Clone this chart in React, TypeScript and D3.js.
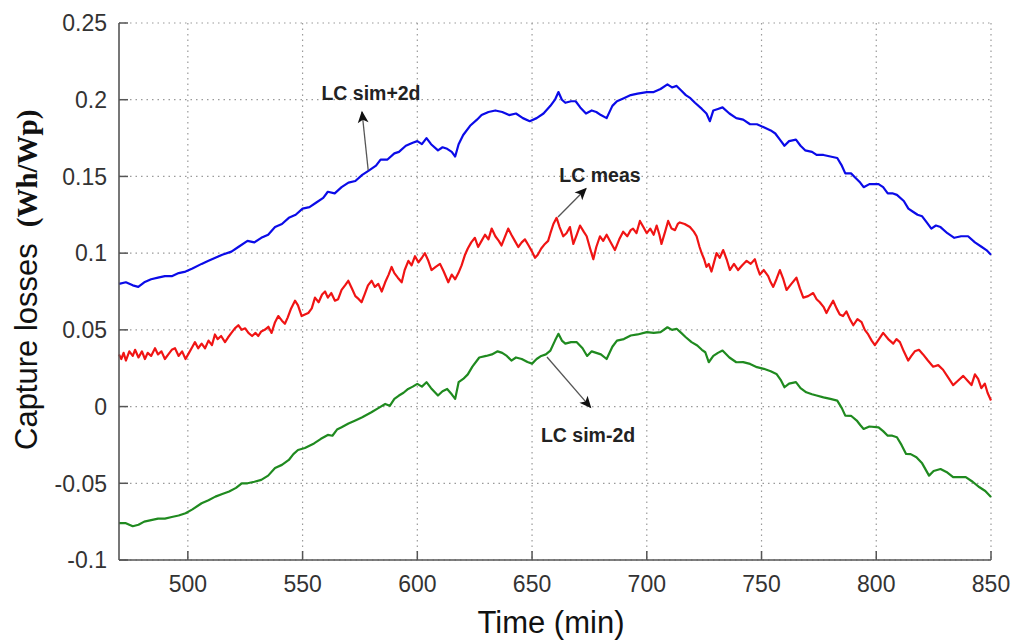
import React from "react";
import * as d3 from "d3";

const xTicks = [500, 550, 600, 650, 700, 750, 800, 850];
const yTicks = [-0.1, -0.05, 0, 0.05, 0.1, 0.15, 0.2, 0.25];
const yTickLabels = ["-0.1", "-0.05", "0", "0.05", "0.1", "0.15", "0.2", "0.25"];

const simPlus: [number, number][] = [
  [470, 0.080], [473, 0.081], [476, 0.079], [478.4, 0.078], [481, 0.081], [484, 0.083], [487, 0.084], [490, 0.085],
  [493, 0.085], [496, 0.087], [499, 0.088], [502, 0.090], [506, 0.093], [509, 0.095], [512, 0.097], [515, 0.099],
  [519, 0.101], [522, 0.104], [526, 0.108], [529, 0.107], [532, 0.110], [535, 0.112], [538, 0.117], [541, 0.119],
  [544, 0.123], [547, 0.125], [550, 0.129], [553, 0.130], [556, 0.133], [559, 0.136], [561, 0.140], [564, 0.139],
  [567, 0.143], [570, 0.146], [573, 0.147], [576, 0.151], [579, 0.154], [582, 0.157], [584, 0.161], [587, 0.161],
  [590, 0.165], [592, 0.166], [595, 0.170], [598, 0.172], [600, 0.173], [602, 0.171], [604, 0.175], [606, 0.171],
  [609, 0.167], [611, 0.169], [613, 0.168], [615, 0.166], [616.5, 0.163], [618, 0.171], [620, 0.177], [623, 0.183],
  [626, 0.187], [628, 0.190], [631, 0.192], [634, 0.193], [637, 0.192], [640, 0.190], [643, 0.191], [646, 0.188],
  [649, 0.186], [652, 0.188], [655, 0.191], [658, 0.196], [660, 0.200], [661.5, 0.205], [663, 0.200], [664.5, 0.198],
  [667, 0.199], [669, 0.199], [671, 0.195], [673.5, 0.191], [676, 0.193], [678, 0.192], [680, 0.190], [682.5, 0.188],
  [685, 0.196], [687, 0.199], [690, 0.201], [693, 0.203], [696, 0.204], [700, 0.205], [703, 0.205], [706, 0.207],
  [709, 0.210], [711, 0.208], [713, 0.209], [715, 0.206], [717, 0.203], [719, 0.201], [721, 0.198], [724, 0.194],
  [726, 0.191], [727.5, 0.186], [729, 0.193], [731, 0.194], [733, 0.195], [736, 0.191], [739, 0.188], [742, 0.187],
  [745, 0.184], [748, 0.184], [751, 0.182], [754, 0.180], [756, 0.178], [758, 0.174], [760, 0.170], [762, 0.173],
  [765, 0.174], [767, 0.170], [769, 0.167], [772, 0.166], [774, 0.164], [777, 0.164], [780, 0.163], [783, 0.162],
  [785, 0.157], [786.5, 0.152], [789, 0.152], [791, 0.149], [793, 0.146], [794.5, 0.143], [797, 0.145], [801, 0.145],
  [803, 0.143], [805, 0.139], [807, 0.139], [809, 0.138], [812, 0.134], [814, 0.129], [816, 0.127], [818, 0.125],
  [820, 0.124], [822, 0.120], [824, 0.116], [826, 0.118], [828, 0.117], [831, 0.113], [834, 0.110], [837, 0.111],
  [840, 0.111], [843, 0.107], [846, 0.104], [848, 0.102], [850, 0.099],
];

const meas: [number, number][] = [
  [470, 0.034], [471, 0.031], [472, 0.035], [473, 0.030], [474.5, 0.036], [476, 0.033], [477, 0.037], [478.5, 0.032],
  [480, 0.036], [481.3, 0.031], [482.5, 0.035], [484, 0.033], [485.7, 0.038], [487, 0.034], [488.5, 0.036], [490, 0.031],
  [491.5, 0.034], [493, 0.037], [494.4, 0.038], [496, 0.033], [497.5, 0.036], [499, 0.031], [500.5, 0.035], [502, 0.039],
  [503.1, 0.042], [504.5, 0.038], [506, 0.041], [507.5, 0.038], [509, 0.043], [510.5, 0.040], [511.8, 0.047], [513, 0.044],
  [514.5, 0.046], [516.2, 0.042], [517.5, 0.045], [519, 0.048], [520.5, 0.051], [522, 0.053], [523.5, 0.050], [525, 0.051],
  [526.4, 0.048], [528, 0.046], [529.5, 0.048], [530.7, 0.046], [532, 0.049], [533.5, 0.050], [535.1, 0.052], [536.5, 0.048],
  [538, 0.055], [539.4, 0.059], [541, 0.056], [542.3, 0.054], [543.5, 0.058], [545, 0.064], [546.7, 0.069], [548, 0.066],
  [549.6, 0.059], [551, 0.060], [552.5, 0.061], [554, 0.064], [555.4, 0.071], [557, 0.068], [558.5, 0.073], [559.8, 0.075],
  [561, 0.071], [562.5, 0.074], [564.1, 0.069], [565.5, 0.070], [567, 0.076], [568.5, 0.079], [569.9, 0.082], [571.5, 0.077],
  [573, 0.072], [574.5, 0.070], [575.7, 0.068], [577, 0.073], [578.5, 0.079], [580.1, 0.082], [581.5, 0.078], [583, 0.080],
  [584.5, 0.075], [586, 0.081], [587.5, 0.086], [588.8, 0.091], [590, 0.087], [591.5, 0.084], [593.2, 0.081], [594.5, 0.089],
  [596.1, 0.095], [597.5, 0.092], [599, 0.098], [600.5, 0.094], [602, 0.097], [603.3, 0.100], [604.8, 0.095], [606.2, 0.089],
  [608, 0.091], [609.9, 0.093], [611.5, 0.088], [613.5, 0.081], [615, 0.086], [616.5, 0.083], [617.9, 0.087], [619.3, 0.092],
  [620.8, 0.099], [622, 0.103], [623.5, 0.107], [625.1, 0.110], [626.5, 0.104], [628, 0.108], [629.5, 0.112], [631, 0.109],
  [632.4, 0.116], [634, 0.111], [635.5, 0.108], [636.7, 0.105], [638, 0.110], [639.6, 0.116], [641, 0.112], [642.5, 0.108],
  [644, 0.104], [645.5, 0.107], [646.9, 0.109], [648.5, 0.105], [650, 0.101], [651.3, 0.097], [652.5, 0.099], [654, 0.103],
  [655.6, 0.106], [657, 0.108], [658, 0.113], [659.3, 0.119], [660.7, 0.123], [662, 0.117], [663.6, 0.111], [665, 0.113],
  [666.5, 0.117], [668, 0.106], [669.5, 0.112], [670.9, 0.118], [672.5, 0.114], [673.8, 0.111], [675.3, 0.103], [676.7, 0.096],
  [678, 0.104], [679.6, 0.111], [681, 0.108], [682.5, 0.112], [684.3, 0.107], [686.1, 0.102], [688, 0.109], [689.7, 0.114],
  [691.5, 0.111], [693, 0.115], [694, 0.116], [695.5, 0.113], [697, 0.121], [698.5, 0.117], [700, 0.113], [701.5, 0.116],
  [703, 0.112], [704.3, 0.118], [705.5, 0.112], [706.4, 0.106], [708, 0.114], [709.3, 0.121], [710.8, 0.116], [712.3, 0.115],
  [713.5, 0.119], [714.4, 0.120], [716.5, 0.119], [718.8, 0.117], [720.5, 0.114], [721.7, 0.111], [723, 0.104], [723.9, 0.100],
  [725, 0.096], [726, 0.091], [727, 0.093], [728.2, 0.088], [729.3, 0.094], [730.4, 0.100], [731.8, 0.097], [733.3, 0.102],
  [734.8, 0.096], [736.2, 0.089], [738, 0.093], [739.8, 0.089], [741.5, 0.092], [743.5, 0.095], [745.3, 0.093], [747.1, 0.096],
  [748.3, 0.090], [749.3, 0.086], [751, 0.089], [752.9, 0.085], [754, 0.081], [755.1, 0.078], [756.5, 0.083], [758, 0.089],
  [759.5, 0.083], [760.9, 0.076], [763, 0.080], [765.2, 0.084], [766.7, 0.077], [768.2, 0.071], [770.3, 0.072], [772.5, 0.074],
  [774, 0.070], [775.4, 0.068], [777, 0.065], [778.3, 0.061], [779.7, 0.065], [781.2, 0.069], [782.7, 0.064], [784.1, 0.060],
  [785.5, 0.059], [787, 0.062], [788.5, 0.057], [790, 0.053], [791.8, 0.057], [793.6, 0.055], [795, 0.050], [796.5, 0.047],
  [798, 0.043], [799.4, 0.040], [801.2, 0.044], [803, 0.048], [805.2, 0.044], [807.4, 0.041], [808.8, 0.044], [810.3, 0.042],
  [812, 0.036], [813.9, 0.030], [815.3, 0.033], [816.8, 0.036], [818.6, 0.037], [820.4, 0.034], [822.5, 0.030], [824.8, 0.026],
  [827, 0.027], [829.1, 0.024], [831.3, 0.019], [833.5, 0.014], [835.7, 0.017], [837.9, 0.020], [839.7, 0.017], [841.5, 0.014],
  [843, 0.021], [844.4, 0.018], [845.8, 0.012], [847.3, 0.015], [848.5, 0.009], [850, 0.004],
];

const simMinus: [number, number][] = [
  [470, -0.076], [473, -0.076], [476, -0.078], [478.5, -0.077], [481, -0.075], [484, -0.074], [487, -0.073], [490, -0.073],
  [493, -0.072], [496, -0.071], [499, -0.0695], [502, -0.067], [506, -0.063], [509, -0.061], [512, -0.0587], [515, -0.057],
  [518, -0.0554], [521, -0.053], [523.5, -0.050], [526, -0.050], [529, -0.049], [532, -0.0478], [535, -0.045], [538, -0.040],
  [541, -0.038], [544, -0.0348], [546, -0.031], [548, -0.0283], [551, -0.027], [555, -0.024], [558, -0.021], [561, -0.0185],
  [563, -0.019], [565, -0.015], [567, -0.0135], [570, -0.011], [573, -0.009], [576, -0.007], [580, -0.0037], [583, -0.001],
  [586, 0.0017], [588, 0.0005], [590, 0.005], [592, 0.0072], [594, 0.009], [596, 0.0115], [598, 0.013], [600, 0.0148],
  [602, 0.013], [604, 0.0159], [606, 0.012], [609, 0.0072], [611, 0.010], [613, 0.0115], [615, 0.008], [616.5, 0.005],
  [618, 0.0159], [620, 0.018], [622, 0.021], [624, 0.026], [627, 0.032], [630, 0.033], [632.5, 0.034], [635, 0.036],
  [637, 0.035], [639, 0.033], [641, 0.030], [643, 0.032], [645.5, 0.031], [648, 0.029], [650, 0.028], [652, 0.031],
  [654, 0.033], [656, 0.034], [658, 0.0365], [660, 0.043], [661.5, 0.0474], [663, 0.043], [664.5, 0.041], [667, 0.042],
  [669.5, 0.042], [672, 0.038], [674, 0.033], [676, 0.036], [678, 0.035], [680, 0.034], [682.5, 0.031], [685, 0.039],
  [687, 0.043], [690, 0.044], [693, 0.0463], [696, 0.047], [700, 0.0485], [703, 0.048], [706, 0.0485], [709, 0.0517],
  [711, 0.050], [713, 0.0507], [715, 0.048], [717, 0.0452], [719.5, 0.042], [722, 0.0398], [724, 0.037], [725.5, 0.0354],
  [727, 0.0289], [729, 0.033], [731, 0.035], [733, 0.0365], [736, 0.032], [739, 0.0289], [742, 0.029], [745, 0.0278],
  [748, 0.0257], [751, 0.0246], [754, 0.023], [756.5, 0.0213], [758.5, 0.017], [760, 0.0126], [762, 0.015], [765, 0.0159],
  [767, 0.012], [769.5, 0.0093], [772, 0.008], [774, 0.0072], [777, 0.006], [780, 0.005], [783, 0.0039], [785, -0.001],
  [786.5, -0.0059], [789, -0.006], [791.5, -0.0091], [793, -0.012], [794.5, -0.0146], [797, -0.013], [801, -0.0135], [803, -0.016],
  [805, -0.019], [807, -0.019], [809, -0.020], [811, -0.025], [813, -0.0309], [815, -0.031], [817.5, -0.033], [820, -0.037],
  [823, -0.045], [825, -0.042], [828, -0.0407], [831, -0.043], [833.5, -0.046], [836, -0.046], [839, -0.046], [842, -0.049],
  [845, -0.0526], [847.5, -0.055], [850, -0.059],
];

const seriesList = [
  { name: "LC sim+2d", data: simPlus, color: "#0b0be8" },
  { name: "LC meas", data: meas, color: "#f01414" },
  { name: "LC sim-2d", data: simMinus, color: "#1f8a1f" },
];

// annotations in data units: text position, arrow start, arrow tip
const annotations = [
  { label: "LC sim+2d", text: [579.8, 0.2044], from: [578.6, 0.154], to: [575.9, 0.192] },
  { label: "LC meas", text: [679.6, 0.151], from: [661.3, 0.1236], to: [673.5, 0.142] },
  { label: "LC sim-2d", text: [674.4, -0.0185], from: [656.5, 0.0323], to: [675.5, -0.0005] },
];

const W = 1011;
const H = 644;
const L = 119, R = 991, T = 23, B = 560;

export default function App() {
  const x = d3.scaleLinear().domain([470, 850]).range([L, R]);
  const y = d3.scaleLinear().domain([-0.1, 0.25]).range([B, T]);
  const line = d3
    .line<[number, number]>()
    .x((d) => x(d[0]))
    .y((d) => y(d[1]));

  const tickFont = "Arial, 'Liberation Sans', sans-serif";

  return (
    <svg
      width={W}
      height={H}
      style={{ position: "absolute", left: 0, top: 0, background: "#fff" }}
    >
      <defs>
        <marker
          id="arrowHead"
          viewBox="0 0 10 10"
          refX="9"
          refY="5"
          markerWidth="14"
          markerHeight="12"
          orient="auto"
          markerUnits="userSpaceOnUse"
        >
          <path d="M0,0.5 L10,5 L0,9.5 L2.5,5 Z" fill="#111" />
        </marker>
      </defs>
      {/* grid */}
      {xTicks.map((t) => (
        <line
          key={"gx" + t}
          x1={x(t)}
          x2={x(t)}
          y1={T}
          y2={B}
          stroke="#9a9a9a"
          strokeWidth={1.2}
          strokeDasharray="1.5,4"
        />
      ))}
      {yTicks.map((t) => (
        <line
          key={"gy" + t}
          x1={L}
          x2={R}
          y1={y(t)}
          y2={y(t)}
          stroke="#9a9a9a"
          strokeWidth={1.2}
          strokeDasharray="1.5,4"
        />
      ))}
      {/* series */}
      {seriesList.map((s) => (
        <path
          key={s.name}
          d={line(s.data) || ""}
          fill="none"
          stroke={s.color}
          strokeWidth={2.2}
          strokeLinejoin="round"
        />
      ))}
      {/* axes */}
      <line x1={L} x2={L} y1={T} y2={B} stroke="#555" strokeWidth={1.6} />
      <line x1={L} x2={R} y1={B} y2={B} stroke="#555" strokeWidth={1.6} />
      {yTicks.map((t, i) => (
        <g key={"yt" + t}>
          <line x1={L} x2={L + 9} y1={y(t)} y2={y(t)} stroke="#555" strokeWidth={1.5} />
          <text
            x={L - 12}
            y={y(t)}
            dy="0.36em"
            textAnchor="end"
            fontFamily={tickFont}
            fontSize={23}
            fill="#333"
          >
            {yTickLabels[i]}
          </text>
        </g>
      ))}
      {xTicks.map((t) => (
        <g key={"xt" + t}>
          <line x1={x(t)} x2={x(t)} y1={B} y2={B - 9} stroke="#555" strokeWidth={1.5} />
          <text
            x={x(t)}
            y={592}
            textAnchor="middle"
            fontFamily={tickFont}
            fontSize={23}
            fill="#333"
          >
            {t}
          </text>
        </g>
      ))}
      {/* annotations */}
      {annotations.map((a) => (
        <g key={a.label}>
          <line
            x1={x(a.from[0])}
            y1={y(a.from[1])}
            x2={x(a.to[0])}
            y2={y(a.to[1])}
            stroke="#555"
            strokeWidth={1.3}
            markerEnd="url(#arrowHead)"
          />
          <text
            x={x(a.text[0])}
            y={y(a.text[1])}
            dy="0.36em"
            textAnchor="middle"
            fontFamily={tickFont}
            fontWeight="bold"
            fontSize={19.5}
            fill="#222"
          >
            {a.label}
          </text>
        </g>
      ))}
      {/* axis titles */}
      <text
        x={551}
        y={633}
        textAnchor="middle"
        fontFamily={tickFont}
        fontSize={31}
        fill="#111"
      >
        Time (min)
      </text>
      <text
        transform="translate(37,450) rotate(-90)"
        textAnchor="start"
        fill="#111"
      >
        <tspan fontFamily={tickFont} fontSize={31}>
          Capture losses
        </tspan>
        <tspan
          dx={16}
          fontFamily="'Times New Roman', 'Liberation Serif', serif"
          fontWeight="bold"
          fontSize={29}
        >
          (Wh/Wp)
        </tspan>
      </text>
    </svg>
  );
}
